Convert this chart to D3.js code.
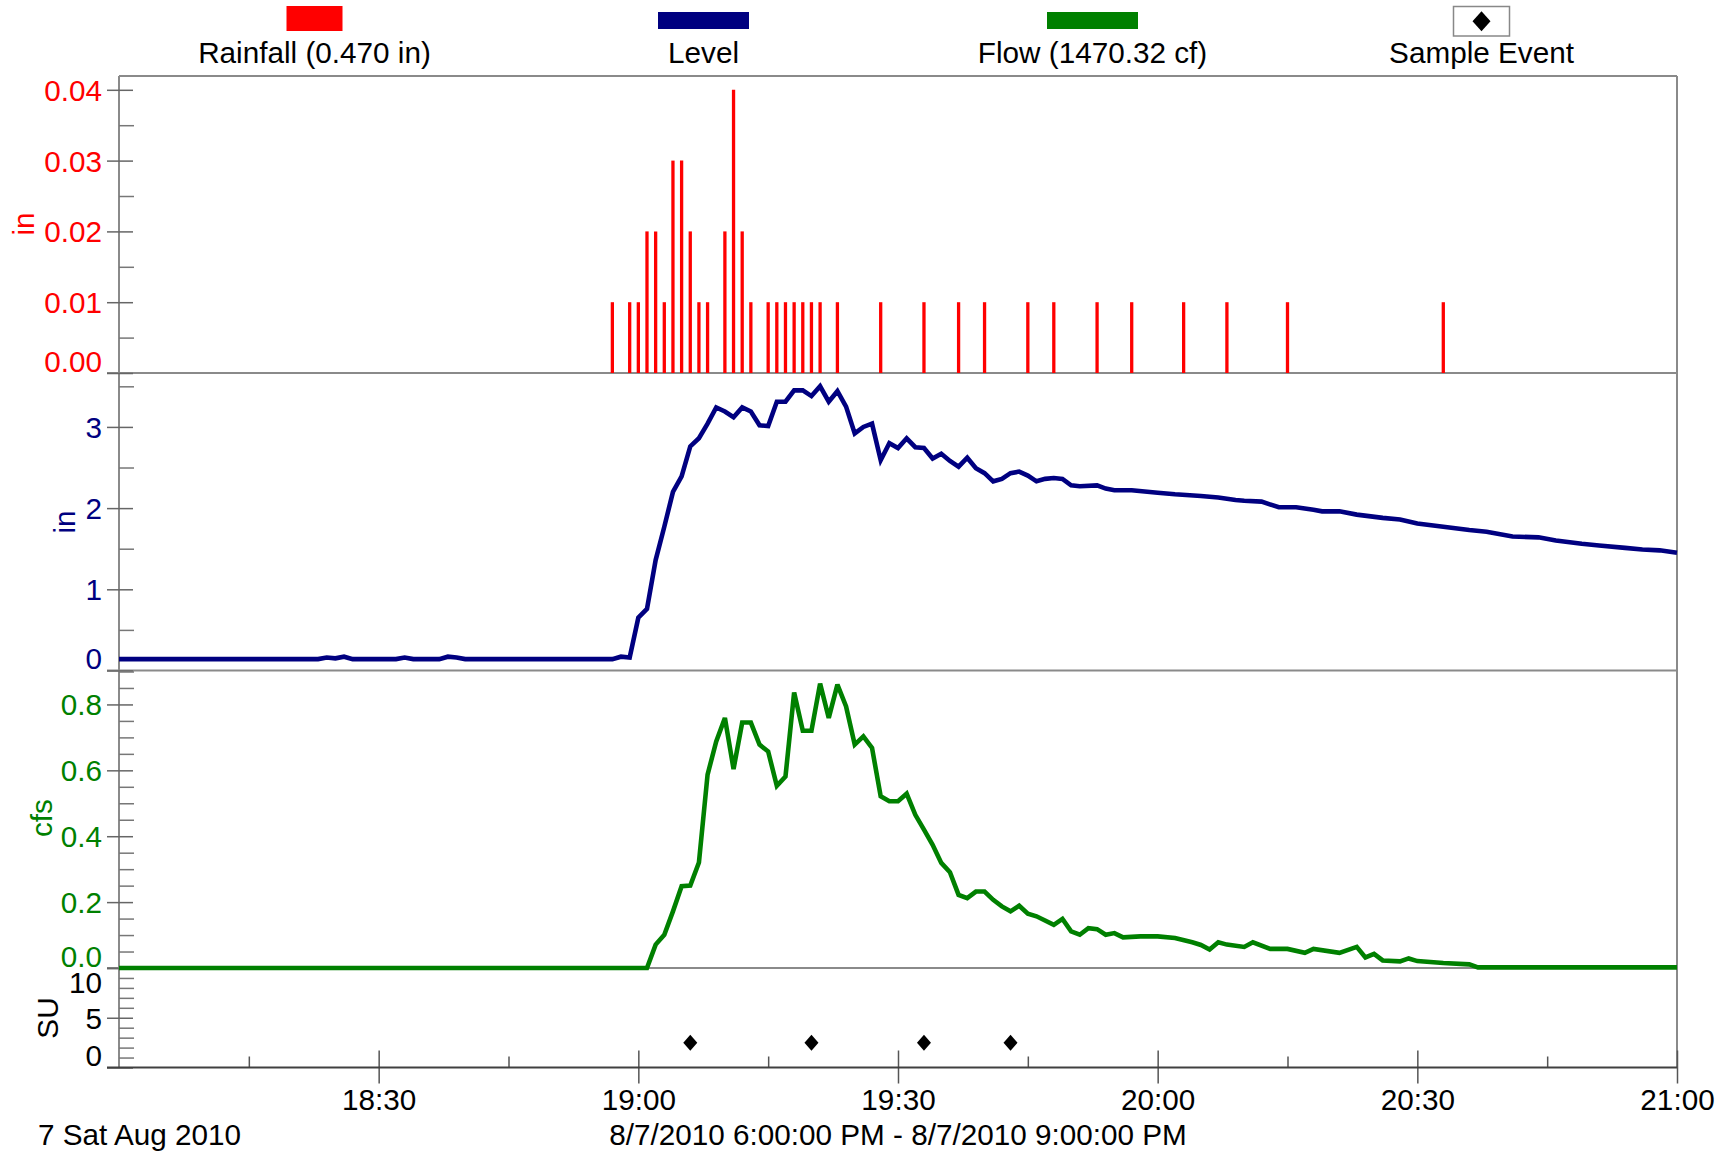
<!DOCTYPE html>
<html>
<head>
<meta charset="utf-8">
<script src="https://cdn.jsdelivr.net/npm/d3@7"></script>
<style>
  html, body { margin: 0; padding: 0; background: #fff; }
  svg { display: block; font-family: "Liberation Sans", Arial, sans-serif; }
</style>
</head>
<body>
<svg id="chart" width="1728" height="1157"></svg>
<script>
// ---- data: 7 Aug 2010, 18:00 - 21:00 ----
const rainSeries = [ // [time, inches per minute]
  ["18:57",0.01],["18:59",0.01],["19:00",0.01],["19:01",0.02],["19:02",0.02],["19:03",0.01],
  ["19:04",0.03],["19:05",0.03],["19:06",0.02],["19:07",0.01],["19:08",0.01],["19:10",0.02],
  ["19:11",0.04],["19:12",0.02],["19:13",0.01],["19:15",0.01],["19:16",0.01],["19:17",0.01],
  ["19:18",0.01],["19:19",0.01],["19:20",0.01],["19:21",0.01],["19:23",0.01],["19:28",0.01],
  ["19:33",0.01],["19:37",0.01],["19:40",0.01],["19:45",0.01],["19:48",0.01],["19:53",0.01],
  ["19:57",0.01],["20:03",0.01],["20:08",0.01],["20:15",0.01],["20:33",0.01]
];

const levelSeries = [ // [time, inches]
  ["18:00",0.14],["18:23",0.14],["18:24",0.16],["18:25",0.15],["18:26",0.17],["18:27",0.14],
  ["18:32",0.14],["18:33",0.16],["18:34",0.14],["18:37",0.14],["18:38",0.17],["18:39",0.16],
  ["18:40",0.14],["18:57",0.14],["18:58",0.17],["18:59",0.16],["19:00",0.65],["19:01",0.76],
  ["19:02",1.36],["19:03",1.77],["19:04",2.20],["19:05",2.39],["19:06",2.76],["19:07",2.86],
  ["19:08",3.04],["19:09",3.24],["19:10",3.19],["19:11",3.12],["19:12",3.24],["19:13",3.19],
  ["19:14",3.02],["19:15",3.01],["19:16",3.31],["19:17",3.31],["19:18",3.45],["19:19",3.45],
  ["19:20",3.38],["19:21",3.50],["19:22",3.31],["19:23",3.44],["19:24",3.25],["19:25",2.92],
  ["19:26",3.00],["19:27",3.04],["19:28",2.59],["19:29",2.80],["19:30",2.74],["19:31",2.86],
  ["19:32",2.75],["19:33",2.74],["19:34",2.61],["19:35",2.67],["19:36",2.58],["19:37",2.51],
  ["19:38",2.62],["19:39",2.49],["19:40",2.43],["19:41",2.33],["19:42",2.36],["19:43",2.43],
  ["19:44",2.45],["19:45",2.40],["19:46",2.33],["19:47",2.36],["19:48",2.37],["19:49",2.36],
  ["19:50",2.28],["19:51",2.27],["19:53",2.28],["19:54",2.24],["19:55",2.22],["19:57",2.22],
  ["20:00",2.19],["20:02",2.17],["20:05",2.15],["20:07",2.13],["20:09",2.10],["20:10",2.09],
  ["20:12",2.08],["20:14",2.01],["20:16",2.01],["20:18",1.98],["20:19",1.96],["20:21",1.96],
  ["20:23",1.92],["20:26",1.88],["20:28",1.86],["20:30",1.81],["20:33",1.77],["20:36",1.73],
  ["20:38",1.71],["20:41",1.65],["20:44",1.64],["20:46",1.60],["20:49",1.56],["20:51",1.54],
  ["20:54",1.51],["20:56",1.49],["20:58",1.48],["21:00",1.45]
];

const flowSeries = [ // [time, cfs]
  ["18:00",0.0],["19:01",0.0],["19:02",0.071],["19:03",0.101],["19:04",0.172],["19:05",0.248],
  ["19:06",0.250],["19:07",0.320],["19:08",0.587],["19:09",0.688],["19:10",0.759],["19:11",0.604],
  ["19:12",0.745],["19:13",0.745],["19:14",0.678],["19:15",0.657],["19:16",0.553],["19:17",0.581],
  ["19:18",0.836],["19:19",0.720],["19:20",0.720],["19:21",0.863],["19:22",0.759],["19:23",0.860],
  ["19:24",0.794],["19:25",0.678],["19:26",0.703],["19:27",0.668],["19:28",0.521],["19:29",0.506],
  ["19:30",0.506],["19:31",0.529],["19:32",0.465],["19:33",0.420],["19:34",0.374],["19:35",0.319],
  ["19:36",0.291],["19:37",0.222],["19:38",0.212],["19:39",0.232],["19:40",0.232],["19:41",0.207],
  ["19:42",0.187],["19:43",0.172],["19:44",0.189],["19:45",0.165],["19:46",0.157],["19:48",0.131],
  ["19:49",0.149],["19:50",0.111],["19:51",0.101],["19:52",0.121],["19:53",0.118],["19:54",0.101],
  ["19:55",0.106],["19:56",0.093],["19:58",0.096],["20:00",0.096],["20:02",0.091],["20:04",0.078],
  ["20:05",0.070],["20:06",0.056],["20:07",0.078],["20:08",0.071],["20:10",0.064],["20:11",0.078],
  ["20:13",0.058],["20:15",0.058],["20:17",0.046],["20:18",0.058],["20:21",0.046],["20:23",0.064],
  ["20:24",0.032],["20:25",0.043],["20:26",0.023],["20:28",0.020],["20:29",0.029],["20:30",0.021],
  ["20:33",0.015],["20:36",0.011],["20:37",0.002],["21:00",0.002]
];

const sampleTimes = ["19:06","19:20","19:33","19:43"];
const sampleSU = 2.5;

const flowTotalCf = "1470.32";
const xMajorTicks = ["18:30","19:00","19:30","20:00","20:30","21:00"];
const xMinorTicks = ["18:15","18:45","19:15","19:45","20:15","20:45"];
const rainTicks = [0, 0.01, 0.02, 0.03, 0.04];
const levelTicks = [0, 1, 2, 3];
const flowTicks = [0, 0.2, 0.4, 0.6, 0.8];
const suTicks = [0, 5, 10];
const dateLabel = "7 Sat Aug 2010";
const rangeLabel = "8/7/2010 6:00:00 PM - 8/7/2010 9:00:00 PM";

// ---- layout ----
const svg = d3.select("#chart");
const left = 119, right = 1677, tickOut = 107;
const FS = 29.7;
const C = { rain: "#ff0000", level: "#000080", flow: "#008000", axis: "#8a8a8a", dark: "#404040" };

const parse = d3.timeParse("%Y-%m-%d %H:%M");
const t = s => parse("2010-08-07 " + s);

const x = d3.scaleTime().domain([t("18:00"), t("21:00")]).range([left, right]);

const panels = [
  { key: "rain",  top: 76,    bottom: 373,    domain: [0, 0.04195], ticks: rainTicks,  minorStep: 0.005,
    fmt: d3.format(".2f"), color: C.rain,  title: "in",  titleX: 34, titleY: 224 },
  { key: "level", top: 373,   bottom: 670.5,  domain: [0, 3.664],   ticks: levelTicks, minorStep: 0.5,
    fmt: d3.format("d"),   color: C.level, title: "in",  titleX: 75, titleY: 522 },
  { key: "flow",  top: 670.5, bottom: 968,    domain: [0, 0.903],   ticks: flowTicks,  minorStep: 0.05,
    fmt: d3.format(".1f"), color: C.flow,  title: "cfs", titleX: 52, titleY: 818 },
  { key: "su",    top: 968,   bottom: 1067.5, domain: [0, 10],      ticks: suTicks,    minorStep: 1,
    fmt: d3.format("d"),   color: "#000",  title: "SU",  titleX: 58, titleY: 1018 }
];
panels.forEach(p => {
  p.y = d3.scaleLinear().domain(p.domain).range([p.bottom, p.top]);
  const n = Math.floor(p.domain[1] / p.minorStep + 1e-6);
  p.minor = d3.range(1, n + 1).map(i => +(i * p.minorStep).toFixed(4))
    .filter(v => !p.ticks.some(m => Math.abs(m - v) < 1e-6));
});
const P = Object.fromEntries(panels.map(p => [p.key, p]));

// ---- frame ----
const frame = svg.append("g");
frame.append("line").attr("x1", left).attr("x2", right).attr("y1", P.rain.top).attr("y2", P.rain.top)
  .attr("stroke", C.axis).attr("stroke-width", 2);
[P.rain.bottom, P.level.bottom, P.flow.bottom].forEach(yy => {
  frame.append("line").attr("x1", tickOut).attr("x2", right).attr("y1", yy).attr("y2", yy)
    .attr("stroke", C.axis).attr("stroke-width", 2);
});
frame.append("line").attr("x1", left).attr("x2", left).attr("y1", P.rain.top).attr("y2", P.su.bottom)
  .attr("stroke", C.axis).attr("stroke-width", 2);
frame.append("line").attr("x1", right).attr("x2", right).attr("y1", P.rain.top).attr("y2", P.su.bottom)
  .attr("stroke", C.axis).attr("stroke-width", 2);

// ---- y axes ----
panels.forEach(p => {
  const g = svg.append("g").attr("transform", `translate(${left},0)`);
  const gm = g.append("g").call(d3.axisLeft(p.y).tickValues(p.minor).tickSize(-15).tickFormat(""));
  gm.select(".domain").remove();
  gm.selectAll(".tick line").attr("stroke", "#777").attr("stroke-width", 1.5);

  const gM = g.append("g").call(d3.axisLeft(p.y).tickValues(p.ticks).tickSize(12).tickFormat(p.fmt));
  gM.select(".domain").remove();
  gM.selectAll(".tick line").attr("x1", 14).attr("x2", -12).attr("stroke", "#666").attr("stroke-width", 1.5);
  gM.selectAll(".tick text")
    .attr("x", -17)
    .attr("dy", "0.35em")
    .attr("y", d => {
      const y0 = p.y(d);
      const yc = Math.min(Math.max(y0, p.top + 14), p.bottom - 12);
      return yc - y0;
    })
    .attr("fill", p.color)
    .style("font-size", FS + "px")
    .style("font-family", "'Liberation Sans', Arial, sans-serif");

  svg.append("text")
    .attr("transform", `translate(${p.titleX},${p.titleY}) rotate(-90)`)
    .attr("text-anchor", "middle")
    .attr("fill", p.color)
    .style("font-size", FS + "px")
    .text(p.title);
});

// ---- x axis ----
const xg = svg.append("g").attr("transform", `translate(0,${P.su.bottom})`);
const xMinor = xg.append("g").call(d3.axisBottom(x).tickValues(xMinorTicks.map(t)).tickSize(-11).tickFormat(""));
xMinor.select(".domain").remove();
xMinor.selectAll(".tick line").attr("stroke", "#555").attr("stroke-width", 1.5);
const xMajor = xg.append("g").call(d3.axisBottom(x).tickValues(xMajorTicks.map(t)).tickSize(16)
  .tickFormat(d3.timeFormat("%H:%M")));
xMajor.select(".domain").remove();
xMajor.selectAll(".tick line").attr("y1", -17).attr("y2", 16).attr("stroke", "#555").attr("stroke-width", 1.5);
xMajor.selectAll(".tick text").attr("y", 42.5).attr("dy", 0).attr("fill", "#000")
  .style("font-size", FS + "px").style("font-family", "'Liberation Sans', Arial, sans-serif");
xg.append("line").attr("x1", tickOut).attr("x2", right).attr("y1", 0).attr("y2", 0)
  .attr("stroke", C.dark).attr("stroke-width", 2);

svg.append("text").attr("x", 38).attr("y", 1145).style("font-size", FS + "px").attr("fill", "#000").text(dateLabel);
svg.append("text").attr("x", (left + right) / 2).attr("y", 1145).attr("text-anchor", "middle")
  .style("font-size", FS + "px").attr("fill", "#000").text(rangeLabel);

// ---- rainfall bars ----
svg.append("g").selectAll("line").data(rainSeries).join("line")
  .attr("x1", d => x(t(d[0]))).attr("x2", d => x(t(d[0])))
  .attr("y1", P.rain.y(0)).attr("y2", d => P.rain.y(d[1]))
  .attr("stroke", C.rain).attr("stroke-width", 3.3);

// ---- level & flow lines ----
const lineFor = p => d3.line().x(d => x(t(d[0]))).y(d => p.y(d[1]));
svg.append("path").datum(levelSeries).attr("d", lineFor(P.level))
  .attr("fill", "none").attr("stroke", C.level).attr("stroke-width", 4.6)
  .attr("stroke-linejoin", "miter").attr("stroke-miterlimit", 3);
svg.append("path").datum(flowSeries).attr("d", lineFor(P.flow))
  .attr("fill", "none").attr("stroke", C.flow).attr("stroke-width", 4.6)
  .attr("stroke-linejoin", "miter").attr("stroke-miterlimit", 3);

// ---- sample events ----
const diamond = (cx, cy, w, h) => `M${cx},${cy - h}L${cx + w},${cy}L${cx},${cy + h}L${cx - w},${cy}Z`;
svg.append("g").selectAll("path").data(sampleTimes).join("path")
  .attr("d", d => diamond(x(t(d)), P.su.y(sampleSU), 7, 8))
  .attr("fill", "#000");

// ---- legend ----
const rainTotal = d3.format(".3f")(d3.sum(rainSeries, d => d[1]));
const legendItems = [
  { name: `Rainfall (${rainTotal} in)`, kind: "bar",  color: C.rain },
  { name: "Level",                      kind: "line", color: C.level },
  { name: `Flow (${flowTotalCf} cf)`,   kind: "line", color: C.flow },
  { name: "Sample Event",               kind: "mark", color: "#000" }
];
const lx = d3.scalePoint().domain(legendItems.map(d => d.name)).range([314.5, 1481.5]);
const lg = svg.append("g").selectAll("g").data(legendItems).join("g")
  .attr("transform", d => `translate(${lx(d.name)},0)`);
lg.filter(d => d.kind === "bar").append("rect")
  .attr("x", -28).attr("y", 6).attr("width", 56).attr("height", 25).attr("fill", d => d.color);
lg.filter(d => d.kind === "line").append("rect")
  .attr("x", -45.5).attr("y", 12).attr("width", 91).attr("height", 17).attr("fill", d => d.color);
const mk = lg.filter(d => d.kind === "mark");
mk.append("rect").attr("x", -28).attr("y", 6.5).attr("width", 56).attr("height", 29.5)
  .attr("fill", "#fff").attr("stroke", "#888").attr("stroke-width", 1.5);
mk.append("path").attr("d", diamond(0, 21.3, 9, 10)).attr("fill", "#000");
lg.append("text").attr("x", 0).attr("y", 63).attr("text-anchor", "middle")
  .style("font-size", FS + "px").attr("fill", "#000").text(d => d.name);
</script>
</body>
</html>
